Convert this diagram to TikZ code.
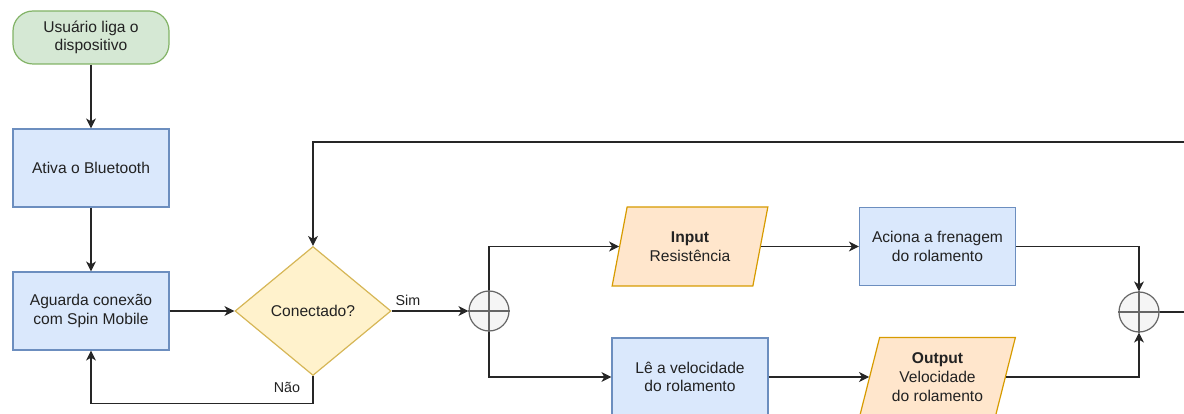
\documentclass[tikz,border=0pt]{standalone}
\usepackage{fontspec}
\setmainfont{Liberation Sans}
\usetikzlibrary{shapes.geometric,arrows.meta}
\definecolor{greenF}{HTML}{D5E8D4}\definecolor{greenS}{HTML}{82B366}
\definecolor{blueF}{HTML}{DAE8FC}\definecolor{blueS}{HTML}{6C8EBF}
\definecolor{yelF}{HTML}{FFF2CC}\definecolor{yelS}{HTML}{D6B656}
\definecolor{orF}{HTML}{FFE6CC}\definecolor{orS}{HTML}{D79B00}
\definecolor{grF}{HTML}{F5F5F5}\definecolor{grS}{HTML}{666666}
\definecolor{txt}{HTML}{222222}
\newcommand{\fsmain}{\fontsize{15.6}{18.7}\selectfont}
\newcommand{\fslab}{\fontsize{14.3}{17}\selectfont}
\begin{document}
\begin{tikzpicture}[x=1pt,y=-1pt,
  base/.style={line width=1.2pt, inner sep=0pt, align=center, font=\fsmain, text=txt},
  startbox/.style={base, draw=greenS, fill=greenF, rounded corners=20pt, minimum width=156pt, minimum height=53pt},
  procbox/.style={base, draw=blueS, fill=blueF, minimum width=156pt, minimum height=78pt},
  decbox/.style={base, diamond, draw=yelS, fill=yelF, minimum width=156pt, minimum height=129pt, aspect=1.21},
  iobox/.style={base, trapezium, trapezium stretches=true, trapezium left angle=72, trapezium right angle=108, draw=orS, fill=orF, minimum width=156pt, minimum height=79pt},
  sumnode/.style={circle, draw=grS, fill=grF, line width=1.2pt, minimum size=40pt, inner sep=0pt},
  cross/.style={draw=grS, line width=1.2pt},
  arr/.style={draw=black!85, line width=1.1pt, -{Stealth[length=10pt, width=10pt, inset=3pt]}},
  line/.style={draw=black!85, line width=1.1pt},
  lab/.style={font=\fslab, text=txt, inner sep=0pt}
]
\useasboundingbox (0,0) rectangle (1184,414);
\clip (0,0) rectangle (1184,414);

\node[startbox] (start) at (91,37.5) {Usuário liga o\\dispositivo};
\node[procbox] (ativa) at (91,168) {Ativa o Bluetooth};
\node[procbox] (aguarda) at (91,311) {Aguarda conexão\\com Spin Mobile};
\node[decbox] (dec) at (313,311) {Conectado?};
\node[sumnode] (c1) at (489,311) {};
\draw[cross] (c1.north) -- (c1.south) (c1.west) -- (c1.east);
\node[iobox] (inp) at (690,246.5) {\textbf{Input}\\Resistência};
\node[procbox] (le) at (690,377) {Lê a velocidade\\do rolamento};
\node[procbox] (aciona) at (937.5,246.5) {Aciona a frenagem\\do rolamento};
\node[iobox] (out) at (937.5,377) {\textbf{Output}\\Velocidade\\do rolamento};
\node[sumnode] (c2) at (1139,312) {};
\draw[cross] (c2.north) -- (c2.south) (c2.west) -- (c2.east);

\coordinate (topend) at (1195,142);
\coordinate (rightend) at (1195,312);

\draw[arr] (start) -- (ativa);
\draw[arr] (ativa) -- (aguarda);
\draw[arr] (aguarda) -- (dec);
\draw[arr] (dec.south) -- ++(0,27) -| (aguarda.south);
\draw[arr] (dec.east) -- (c1.west);
\draw[arr] (c1.north) |- (inp.left side);
\draw[arr] (c1.south) |- (le.west);
\draw[arr] (inp.right side) -- (aciona.west);
\draw[arr] (le.east) -- (out.left side);
\draw[arr] (aciona.east) -| (c2.north);
\draw[arr] (out.right side) -| (c2.south);
\draw[line] (c2.east) -- (rightend);
\draw[arr] (topend) -| (dec.north);

\node[lab] (sim) at (408,300) {Sim};
\node[lab] (nao) at (287,387) {Não};
\end{tikzpicture}
\end{document}
